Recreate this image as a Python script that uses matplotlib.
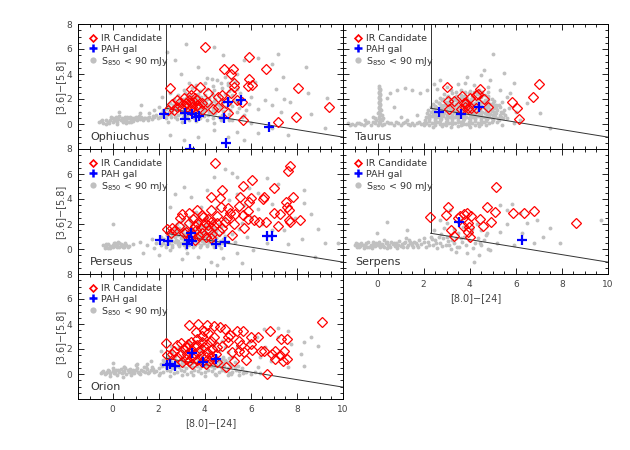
import numpy as np
import matplotlib
matplotlib.use("Agg")
import matplotlib.pyplot as plt
from matplotlib.lines import Line2D
from matplotlib.ticker import MultipleLocator, FixedLocator

# ---------------------------------------------------------------- data
names = ["Ophiuchus", "Taurus", "Perseus", "Serpens", "Orion"]

# S850 < 90 mJy sources (grey)
oph_gray = np.array([
    (-0.6, 0.15), (-0.5, 0.25), (-0.4, 0.1), (-0.3, 0.3), (-0.2, 0.2), (-0.1, 0.35), (0.0, 0.15), (0.0, 0.45),
    (0.1, 0.3), (0.15, 0.55), (0.2, 0.2), (0.25, 0.4), (0.3, 0.65), (0.35, 0.3), (0.4, 0.5), (0.45, 0.15),
    (0.5, 0.4), (0.55, 0.6), (0.6, 0.3), (0.65, 0.45), (0.7, 0.2), (0.75, 0.55), (0.8, 0.35), (0.85, 0.5),
    (0.9, 0.25), (0.95, 0.45), (1.0, 0.6), (1.05, 0.35), (1.1, 0.5), (1.2, 0.4), (1.25, 0.6), (1.3, 0.3),
    (1.4, 0.5), (1.5, 0.45), (1.6, 0.6), (1.7, 0.4), (1.8, 0.55), (1.9, 0.7), (-0.3, 0.0), (0.2, 0.0),
    (0.6, 0.1), (0.3, 1.0), (1.2, 0.9), (1.22, 1.5), (2.16, 2.2), (2.0, 1.4), (1.8, 1.1), (1.6, 0.9),
    (-0.45, 0.3), (-0.15, 0.1), (0.05, 0.3), (0.22, 0.5), (0.42, 0.32), (0.62, 0.55), (0.82, 0.2),
    (1.0, 0.42), (1.15, 0.65), (1.35, 0.48), (1.55, 0.3), (1.75, 0.62), (1.95, 0.45), (-0.05, 0.55),
    (2.05, 0.55), (2.3, 0.45), (2.55, 0.6), (2.8, 0.4), (3.05, 0.55), (3.3, 0.35), (3.55, 0.5), (3.8, 0.45),
    (4.1, 0.3), (4.35, 0.5), (4.7, 0.35), (2.1, 0.85), (2.35, 0.75), (2.6, 0.9), (2.85, 0.7), (3.1, 0.8),
    (3.35, 0.95), (3.6, 0.7), (3.9, 0.85), (4.15, 0.75), (4.45, 0.9), (4.75, 0.7), (5.05, 0.8),
    (2.2, 1.1), (2.45, 1.0), (2.7, 1.2), (2.95, 1.05), (3.2, 1.15), (3.45, 1.0), (3.7, 1.2), (3.95, 1.1),
    (4.2, 1.0), (4.5, 1.2), (4.8, 1.05), (5.1, 1.15), (5.4, 1.0), (2.35, 1.4), (2.6, 1.3), (2.85, 1.5),
    (3.1, 1.35), (3.35, 1.45), (3.6, 1.3), (3.85, 1.5), (4.1, 1.4), (4.35, 1.3), (4.6, 1.5), (4.9, 1.35),
    (5.2, 1.45), (5.5, 1.3), (2.5, 1.7), (2.75, 1.6), (3.0, 1.8), (3.25, 1.65), (3.5, 1.75), (3.75, 1.6),
    (4.0, 1.8), (4.25, 1.7), (4.5, 1.6), (4.8, 1.75), (5.1, 1.65), (5.4, 1.8), (2.65, 2.0), (2.9, 1.9),
    (3.2, 2.1), (3.45, 1.95), (3.7, 2.05), (3.95, 1.9), (4.2, 2.1), (4.45, 2.0), (4.7, 1.9), (5.0, 2.05),
    (5.3, 1.95), (2.85, 2.3), (3.15, 2.45), (3.4, 2.25), (3.7, 2.4), (4.0, 2.3), (4.3, 2.5), (4.6, 2.25),
    (4.9, 2.4), (5.2, 2.3), (5.55, 2.5), (3.1, 2.7), (3.45, 2.85), (3.8, 2.65), (4.1, 2.8), (4.4, 2.7),
    (4.75, 2.9), (5.05, 2.65), (5.4, 2.8), (3.6, 3.1), (4.0, 3.3), (4.35, 3.05), (4.7, 3.25), (5.0, 3.1),
    (5.3, 3.4), (4.1, 3.7), (4.55, 3.55), (4.9, 3.8), (5.2, 3.6), (2.4, 0.2), (3.0, 0.15), (3.6, 0.25),
    (4.4, 0.1), (5.2, 0.3), (5.6, 0.6), (5.8, 1.1), (5.9, 1.6), (6.0, 2.2),
    (2.2, 0.65), (2.48, 0.82), (2.72, 0.58), (2.98, 0.92), (3.22, 0.62), (3.48, 0.82), (3.72, 0.95),
    (3.98, 0.62), (4.28, 0.88), (4.6, 0.6), (2.32, 1.22), (2.58, 1.15), (2.82, 1.32), (3.08, 1.2),
    (3.32, 1.28), (3.58, 1.12), (3.82, 1.32), (4.08, 1.2), (4.38, 1.12), (4.68, 1.32), (2.62, 1.52),
    (2.88, 1.68), (3.12, 1.55), (3.38, 1.6), (3.62, 1.85), (3.88, 1.68), (4.12, 1.55), (4.4, 1.85),
    (4.72, 1.55), (3.05, 2.0), (3.3, 2.32), (3.58, 2.18), (3.85, 2.2), (4.1, 1.98), (4.38, 2.3),
    (2.38, 5.8), (3.2, 6.4), (4.8, 5.5), (5.7, 5.1), (6.9, 4.8), (8.4, 4.6), (7.4, 3.8), (6.2, 3.4),
    (7.1, 2.8), (8.5, 2.5), (9.3, 2.1), (7.7, 1.8), (6.9, 1.5), (6.3, 1.2), (7.3, 1.0), (8.6, 0.8),
    (6.0, 0.1), (6.9, -0.3), (5.4, -0.6), (4.4, -0.5), (3.7, -1.0), (3.1, -1.3), (2.5, -0.85), (5.0, -1.0),
    (5.7, -1.3), (6.3, -0.75), (7.6, -0.9), (9.2, -0.3), (4.4, 6.2), (2.7, 5.1), (2.96, 4.0), (3.7, 4.6),
    (4.3, 3.6), (5.42, 4.0), (5.0, 3.3), (3.3, 3.3), (2.5, 2.5), (6.6, 1.9), (7.45, 2.0), (5.71, 0.75),
    (5.06, 0.3), (7.2, 5.6), (6.3, 5.3),
])

tau_gray = np.array([
    (-1.3, 0.05), (-1.1, 0.0), (-0.9, 0.1), (-0.7, 0.0), (-0.5, 0.1), (-0.3, -0.05), (-0.1, 0.05), (0.1, 0.1),
    (0.3, 0.0), (0.5, 0.1), (0.7, -0.05), (0.9, 0.05), (1.1, 0.1), (1.3, 0.0), (1.5, 0.05), (1.7, 0.1),
    (1.9, 0.0), (2.1, 0.05), (-1.0, -0.1), (-0.4, 0.15), (0.2, -0.1), (0.8, 0.15), (1.4, -0.1),
    (-1.2, -0.05), (-0.8, 0.05), (-0.6, -0.1), (-0.2, 0.15), (0.0, -0.05), (0.4, 0.15), (0.6, 0.05),
    (1.0, -0.1), (1.2, 0.15), (1.6, -0.05), (1.8, 0.15), (2.0, 0.1),
    (0.05, 0.2), (0.1, 0.4), (0.05, 0.6), (0.12, 0.8), (0.08, 1.0), (0.1, 1.2), (0.05, 1.4), (0.12, 1.6),
    (0.08, 1.8), (0.1, 2.0), (0.06, 2.2), (0.12, 2.4), (0.08, 2.6), (0.1, 2.8), (0.05, 3.05),
    (0.1, 0.3), (0.06, 0.5), (0.12, 0.7), (0.06, 0.9), (0.12, 1.1), (0.07, 1.3), (0.1, 1.5), (0.06, 1.7),
    (0.12, 1.9), (0.08, 2.1), (0.1, 2.3), (0.06, 2.5), (0.12, 2.7), (0.08, 2.9),
    (-0.05, 0.3), (0.2, 0.3), (0.25, 0.5), (-0.1, 0.5), (0.2, 0.7), (0.0, 0.9), (0.15, 1.1),
    (0.54, 2.45), (0.83, 2.7), (1.2, 2.85), (1.5, 2.7), (1.85, 2.45), (2.14, 2.7), (0.4, 2.05),
    (0.7, 1.4), (1.0, 0.6), (1.27, 0.3), (1.7, 0.7), (-0.18, 0.6), (-0.54, 0.3),
    (2.4, -0.2), (2.8, -0.15), (3.2, -0.25), (3.6, -0.1), (4.0, -0.2), (4.4, -0.15),
    (2.1, 0.1), (2.35, 0.05), (2.6, 0.15), (2.85, 0.0), (3.1, 0.1), (3.35, 0.05), (3.6, 0.15), (3.85, 0.0),
    (4.1, 0.1), (4.35, 0.05), (4.6, 0.15), (4.85, 0.05),
    (2.05, 0.35), (2.25, 0.4), (2.5, 0.3), (2.75, 0.4), (3.0, 0.3), (3.25, 0.4), (3.5, 0.3), (3.75, 0.4),
    (4.0, 0.3), (4.25, 0.4), (4.5, 0.3), (4.75, 0.4), (5.0, 0.35), (5.25, 0.3),
    (2.1, 0.6), (2.35, 0.65), (2.6, 0.55), (2.85, 0.65), (3.1, 0.6), (3.35, 0.55), (3.6, 0.65), (3.85, 0.6),
    (4.1, 0.55), (4.35, 0.65), (4.6, 0.6), (4.85, 0.55), (5.1, 0.65), (5.35, 0.6),
    (2.15, 0.85), (2.4, 0.9), (2.65, 0.8), (2.9, 0.9), (3.15, 0.85), (3.4, 0.8), (3.65, 0.9), (3.9, 0.85),
    (4.15, 0.8), (4.4, 0.9), (4.65, 0.85), (4.9, 0.8), (5.15, 0.9), (5.45, 0.85),
    (2.2, 1.1), (2.45, 1.15), (2.7, 1.05), (2.95, 1.15), (3.2, 1.1), (3.45, 1.05), (3.7, 1.15), (3.95, 1.1),
    (4.2, 1.05), (4.45, 1.15), (4.7, 1.1), (4.95, 1.05), (5.2, 1.15), (5.5, 1.1),
    (2.3, 1.35), (2.55, 1.4), (2.8, 1.3), (3.05, 1.4), (3.3, 1.35), (3.55, 1.3), (3.8, 1.4), (4.05, 1.35),
    (4.3, 1.3), (4.55, 1.4), (4.8, 1.35), (5.05, 1.3), (5.3, 1.4),
    (2.4, 1.6), (2.65, 1.65), (2.9, 1.55), (3.15, 1.65), (3.4, 1.6), (3.65, 1.55), (3.9, 1.65), (4.15, 1.6),
    (4.4, 1.55), (4.65, 1.65), (4.9, 1.6), (5.15, 1.55),
    (2.55, 1.85), (2.8, 1.9), (3.05, 1.8), (3.3, 1.9), (3.55, 1.85), (3.8, 1.8), (4.05, 1.9), (4.3, 1.85),
    (4.55, 1.8), (4.8, 1.9), (5.05, 1.85),
    (2.7, 2.1), (3.0, 2.15), (3.3, 2.05), (3.6, 2.15), (3.9, 2.1), (4.2, 2.05), (4.5, 2.15), (4.8, 2.1),
    (2.9, 2.4), (3.25, 2.45), (3.6, 2.35), (3.95, 2.45), (4.3, 2.4), (4.65, 2.35),
    (3.2, 2.7), (3.6, 2.75), (4.0, 2.65), (4.4, 2.75),
    (2.22, -0.05), (2.48, -0.1), (2.72, 0.02), (2.98, -0.08), (3.22, 0.0), (3.48, -0.12), (3.72, 0.02),
    (3.98, -0.05), (4.22, -0.1), (4.48, 0.0), (4.72, -0.08),
    (2.22, 0.22), (2.48, 0.2), (2.72, 0.25), (2.98, 0.18), (3.22, 0.24), (3.48, 0.2), (3.72, 0.26),
    (3.98, 0.18), (4.22, 0.22), (4.48, 0.2), (4.72, 0.26), (4.98, 0.2), (5.2, 0.15),
    (2.22, 0.48), (2.48, 0.5), (2.72, 0.46), (2.98, 0.5), (3.22, 0.48), (3.48, 0.5), (3.72, 0.46),
    (3.98, 0.5), (4.22, 0.48), (4.48, 0.5), (4.72, 0.46), (4.98, 0.5), (5.22, 0.48), (5.45, 0.45),
    (2.25, 0.74), (2.5, 0.72), (2.75, 0.76), (3.0, 0.72), (3.25, 0.74), (3.5, 0.72), (3.75, 0.76),
    (4.0, 0.72), (4.25, 0.74), (4.5, 0.72), (4.75, 0.76), (5.0, 0.72), (5.3, 0.74), (5.55, 0.7),
    (2.3, 0.98), (2.55, 1.0), (2.8, 0.96), (3.05, 1.0), (3.3, 0.98), (3.55, 1.0), (3.8, 0.96),
    (4.05, 1.0), (4.3, 0.98), (4.55, 1.0), (4.8, 0.96), (5.05, 1.0), (5.35, 0.98),
    (2.4, 1.22), (2.65, 1.25), (2.9, 1.2), (3.15, 1.25), (3.4, 1.22), (3.65, 1.25), (3.9, 1.2),
    (4.15, 1.25), (4.4, 1.22), (4.65, 1.25), (4.9, 1.2), (5.15, 1.25),
    (2.5, 1.48), (2.75, 1.5), (3.0, 1.46), (3.25, 1.5), (3.5, 1.48), (3.75, 1.5), (4.0, 1.46),
    (4.25, 1.5), (4.5, 1.48), (4.75, 1.5), (5.0, 1.46), (5.25, 1.5),
    (2.65, 1.72), (2.95, 1.75), (3.25, 1.7), (3.5, 1.75), (3.75, 1.72), (4.0, 1.75), (4.25, 1.7),
    (4.5, 1.75), (4.75, 1.72), (5.0, 1.7),
    (2.85, 1.98), (3.15, 2.0), (3.45, 1.96), (3.75, 2.0), (4.05, 1.98), (4.35, 2.0), (4.65, 1.96), (4.95, 2.0),
    (3.05, 2.25), (3.4, 2.28), (3.75, 2.24), (4.1, 2.28), (4.45, 2.25), (4.8, 2.28),
    (3.4, 2.55), (3.8, 2.55), (4.2, 2.55), (4.55, 2.6),
    (2.0, -0.05), (5.6, 0.5), (5.7, 1.3), (5.4, 1.8), (3.0, 2.95), (4.8, 2.6),
    (5.47, 4.05), (5.0, 5.6), (5.9, 3.3), (6.48, 1.7), (7.06, 0.85), (4.9, 3.5), (4.5, 3.9), (3.9, 3.8),
    (2.72, 3.5), (2.43, 3.2), (5.76, 2.45), (6.2, 0.3), (5.4, -0.1), (7.5, -0.3), (3.5, 3.2), (4.2, 3.1),
    (4.8, 3.0), (5.3, 2.7), (5.6, 2.2), (6.0, 1.0), (5.9, 0.1), (2.6, 2.8), (3.8, 3.3), (4.6, 4.3),
])

per_gray = np.array([
    (-0.4, 0.3), (-0.3, 0.2), (-0.2, 0.4), (-0.1, 0.25), (0.0, 0.35), (0.0, 0.15), (0.1, 0.45), (0.15, 0.25),
    (0.2, 0.3), (0.3, 0.2), (0.35, 0.4), (0.4, 0.25), (0.5, 0.35), (0.6, 0.3), (0.7, 0.25), (-0.2, 0.1),
    (0.25, 0.55), (0.5, 0.15), (0.0, 2.0), (-0.3, 0.4), (-0.1, 0.1), (0.05, 0.5), (0.2, 0.15), (0.3, 0.45),
    (0.45, 0.2), (0.55, 0.45), (0.65, 0.15), (-0.35, 0.1), (0.1, 0.3), (0.4, 0.35),
    (0.9, 0.4), (1.2, 0.6), (1.5, 0.3), (1.7, 0.8), (1.9, 0.5), (2.1, 1.0), (1.3, -0.3), (1.8, 0.1), (2.0, -0.5),
    (2.3, 0.2), (2.6, 0.15), (2.9, 0.25), (3.2, 0.1), (3.5, 0.2), (3.8, 0.15), (4.1, 0.25), (4.4, 0.2), (4.7, 0.1),
    (2.2, 0.5), (2.45, 0.45), (2.7, 0.55), (2.95, 0.5), (3.2, 0.45), (3.45, 0.55), (3.7, 0.5), (3.95, 0.45),
    (4.2, 0.55), (4.45, 0.5), (4.75, 0.45), (5.0, 0.55),
    (2.25, 0.8), (2.5, 0.85), (2.75, 0.75), (3.0, 0.85), (3.25, 0.8), (3.5, 0.75), (3.75, 0.85), (4.0, 0.8),
    (4.25, 0.75), (4.5, 0.85), (4.8, 0.8),
    (2.35, 1.1), (2.6, 1.05), (2.85, 1.15), (3.1, 1.1), (3.35, 1.05), (3.6, 1.15), (3.85, 1.1), (4.1, 1.05),
    (4.35, 1.15), (4.6, 1.1), (4.9, 1.05),
    (2.5, 1.4), (2.75, 1.35), (3.0, 1.45), (3.25, 1.4), (3.5, 1.35), (3.75, 1.45), (4.0, 1.4), (4.25, 1.35),
    (4.5, 1.45), (4.8, 1.4),
    (2.65, 1.7), (2.9, 1.65), (3.15, 1.75), (3.4, 1.7), (3.65, 1.65), (3.9, 1.75), (4.15, 1.7), (4.4, 1.65),
    (4.7, 1.75),
    (2.8, 2.0), (3.1, 1.95), (3.4, 2.05), (3.7, 2.0), (4.0, 1.95), (4.3, 2.05), (4.6, 2.0),
    (3.0, 2.3), (3.35, 2.35), (3.7, 2.25), (4.05, 2.35), (4.4, 2.3), (3.3, 2.6), (3.7, 2.65), (4.1, 2.55),
    (2.32, 0.35), (2.58, 0.32), (2.82, 0.38), (3.08, 0.3), (3.32, 0.36), (3.58, 0.32), (3.82, 0.36),
    (4.08, 0.32), (4.32, 0.38), (4.6, 0.3), (2.35, 0.65), (2.6, 0.68), (2.85, 0.62), (3.12, 0.66),
    (3.38, 0.62), (3.62, 0.68), (3.88, 0.62), (4.12, 0.66), (4.38, 0.62), (4.65, 0.68), (2.45, 0.95),
    (2.72, 0.98), (2.98, 0.92), (3.22, 0.96), (3.48, 0.92), (3.72, 0.98), (3.98, 0.92), (4.22, 0.96),
    (4.48, 0.92), (2.62, 1.25), (2.88, 1.28), (3.12, 1.22), (3.38, 1.26), (3.62, 1.22), (3.88, 1.28),
    (4.12, 1.22), (4.4, 1.28), (2.8, 1.55), (3.05, 1.58), (3.3, 1.52), (3.55, 1.56), (3.8, 1.52),
    (4.05, 1.58), (4.3, 1.52),
    (5.2, 1.2), (5.3, 0.6), (5.5, 1.6), (5.6, 2.1), (4.9, 2.4), (2.1, 0.3),
    (4.9, 6.4), (5.2, 6.1), (5.4, 5.8), (6.7, 5.7), (7.2, 5.2), (8.3, 4.7), (6.3, 4.5), (6.9, 3.6),
    (8.3, 3.7), (8.6, 2.8), (8.9, 1.6), (9.8, 0.5), (9.2, 0.5), (8.2, 0.8), (7.45, 1.5), (6.7, 0.5),
    (6.1, -0.05), (5.4, -0.3), (4.8, -0.7), (4.26, -1.0), (3.7, -0.6), (4.55, -1.25), (3.25, -0.3),
    (2.5, -0.05), (3.83, 3.4), (4.1, 4.7), (3.4, 4.2), (3.1, 5.0), (4.4, 5.8), (2.5, 3.4), (5.7, 3.5),
    (6.3, 3.2), (5.4, 4.4), (5.06, 3.9), (6.9, 1.55), (5.85, 1.0), (7.6, 0.4), (8.8, -0.6), (6.0, 2.6),
    (7.9, 2.5), (6.5, 2.0), (5.9, 4.9), (2.7, 4.4), (3.6, 3.0), (4.5, 3.3), (3.0, -0.8), (5.6, -1.1),
])

ser_gray = np.array([
    (-1.0, 0.3), (-0.9, 0.15), (-0.85, 0.4), (-0.75, 0.25), (-0.7, 0.5), (-0.6, 0.1), (-0.55, 0.35), (-0.45, 0.2),
    (-0.4, 0.55), (-0.3, 0.3), (-0.25, 0.1), (-0.15, 0.45), (-0.1, 0.25), (0.0, 0.35), (0.05, 0.6), (0.1, 0.15),
    (0.2, 0.4), (0.25, 0.25), (0.35, 0.5), (0.4, 0.1), (0.45, 0.35), (0.55, 0.2), (0.6, 0.6), (0.65, 0.4),
    (0.75, 0.25), (0.8, 0.5), (0.9, 0.3), (0.95, 0.65), (1.05, 0.4), (1.1, 0.15), (1.2, 0.55), (1.3, 0.3),
    (1.35, 0.7), (1.45, 0.45), (1.55, 0.2), (1.6, 0.6), (1.7, 0.35), (1.8, 0.75), (-0.2, 0.6), (0.3, 0.7),
    (0.85, 0.05), (1.25, 0.85), (-0.95, 0.45), (-0.8, 0.2), (-0.65, 0.3), (-0.5, 0.45), (-0.35, 0.15),
    (-0.2, 0.3), (-0.05, 0.5), (0.12, 0.3), (0.28, 0.15), (0.42, 0.55), (0.5, 0.3), (0.7, 0.45),
    (0.85, 0.3), (1.0, 0.25), (1.15, 0.45), (1.28, 0.15), (1.4, 0.6), (1.5, 0.3), (1.65, 0.5), (1.75, 0.2),
    (1.9, 0.4), (2.0, 0.9), (2.1, 0.2), (2.2, 0.6), (2.3, 1.0), (2.4, 0.35), (2.5, 0.75), (2.6, 0.1),
    (2.7, 0.5), (2.75, 1.2), (2.85, 0.85), (2.95, 0.3), (3.05, 0.65), (3.15, 1.05), (3.2, 0.0), (3.3, 0.45),
    (3.4, 0.85), (3.5, 1.3), (3.55, 0.2), (3.65, 0.6), (3.75, 1.0), (3.85, 0.35), (3.95, 0.75), (4.05, 1.25),
    (4.15, 0.1), (4.25, 0.5), (4.35, 0.9), (4.5, 0.3), (4.6, 0.7), (4.7, 1.1), (2.45, 1.5), (2.9, 1.7),
    (3.3, 1.6), (3.7, 1.8), (4.1, 1.6), (4.5, 1.5), (3.0, 2.1), (3.6, 2.3), (4.3, 2.0), (4.8, 0.0),
    (3.9, -0.3), (4.4, -0.5), (3.4, -0.2), (2.0, 0.55), (2.25, 0.3), (2.55, 0.45), (2.8, 0.25),
    (3.1, 0.35), (3.45, 0.15), (2.35, 0.8), (2.65, 0.95), (3.0, 1.0), (3.25, 0.7), (3.6, 0.9),
    (0.4, 2.2), (-0.04, 1.3), (1.27, 1.55), (2.72, 2.35), (3.15, 3.15), (5.33, 3.55), (5.83, 3.6), (6.2, 2.9),
    (6.9, 2.35), (7.5, 1.7), (7.9, 0.5), (6.8, 0.5), (5.9, 0.35), (5.2, 0.5), (4.9, -0.05), (4.17, -1.0),
    (5.33, 1.4), (5.62, 2.0), (9.7, 2.35), (4.45, 0.5), (4.75, 1.25), (5.62, 3.15), (6.48, 2.1), (7.2, 1.0),
    (6.27, 1.3),
])

ori_gray = np.array([
    (-0.5, 0.1), (-0.4, 0.25), (-0.35, 0.0), (-0.25, 0.15), (-0.2, 0.35), (-0.1, 0.05), (0.0, 0.25), (0.0, 0.45),
    (0.1, 0.1), (0.15, 0.3), (0.2, -0.1), (0.3, 0.2), (0.35, 0.4), (0.4, 0.05), (0.5, 0.25), (0.55, 0.45),
    (0.6, 0.0), (0.7, 0.2), (0.75, 0.4), (0.8, -0.05), (0.9, 0.3), (0.95, 0.1), (1.05, 0.45), (1.1, 0.2),
    (1.2, 0.0), (1.25, 0.35), (1.35, 0.55), (1.4, 0.15), (1.5, 0.4), (1.55, 0.05), (1.65, 0.3), (1.7, 0.6),
    (1.8, 0.2), (0.0, 0.9), (0.5, 0.6), (1.0, 0.7), (1.5, 0.8), (-0.1, -0.15), (0.45, -0.2),
    (-0.45, 0.2), (-0.3, 0.1), (-0.15, 0.25), (0.05, 0.05), (0.25, 0.35), (0.45, 0.15), (0.65, 0.3),
    (0.85, 0.15), (1.0, 0.35), (1.15, 0.05), (1.3, 0.25), (1.45, 0.6), (1.6, 0.15), (1.75, 0.4),
    (2.0, -0.1), (2.5, -0.15), (3.0, -0.05), (3.5, -0.1), (4.0, -0.15), (4.5, -0.05), (5.0, -0.1), (5.5, -0.05),
    (6.0, 0.0), (1.9, 0.25), (2.2, 0.15), (2.5, 0.25), (2.8, 0.15), (3.1, 0.25), (3.4, 0.15), (3.7, 0.25),
    (4.0, 0.15), (4.3, 0.25), (4.6, 0.15), (4.9, 0.25), (5.2, 0.15), (5.5, 0.25), (5.8, 0.2), (6.2, 0.15),
    (2.0, 0.5), (2.3, 0.55), (2.6, 0.45), (2.9, 0.55), (3.2, 0.45), (3.5, 0.55), (3.8, 0.45), (4.1, 0.55),
    (4.4, 0.45), (4.7, 0.55), (5.0, 0.45), (5.3, 0.55), (5.6, 0.5),
    (2.1, 0.8), (2.4, 0.85), (2.7, 0.75), (3.0, 0.85), (3.3, 0.75), (3.6, 0.85), (3.9, 0.75), (4.2, 0.85),
    (4.5, 0.75), (4.8, 0.85), (5.1, 0.8),
    (2.2, 1.1), (2.5, 1.15), (2.8, 1.05), (3.1, 1.15), (3.4, 1.05), (3.7, 1.15), (4.0, 1.05), (4.3, 1.15),
    (4.6, 1.05), (4.9, 1.15), (2.4, 1.4), (2.7, 1.45), (3.0, 1.35), (3.3, 1.45), (3.6, 1.35), (3.9, 1.45),
    (4.2, 1.35), (4.5, 1.45), (4.8, 1.4), (5.2, 1.4), (2.6, 1.8), (3.0, 1.85), (3.4, 1.75), (3.8, 1.85),
    (4.2, 1.75), (4.6, 1.85), (5.0, 1.8), (2.9, 2.2), (3.4, 2.25), (3.9, 2.15), (4.4, 2.25), (4.9, 2.2),
    (3.3, 2.6), (3.9, 2.7), (4.5, 2.6),
    (2.05, 0.05), (2.35, 0.35), (2.65, 0.05), (2.95, 0.35), (3.25, 0.02), (3.55, 0.35), (3.85, 0.05),
    (4.15, 0.35), (4.45, 0.02), (4.75, 0.35), (5.05, 0.05), (5.35, 0.35), (5.65, 0.05), (6.4, 0.05),
    (2.15, 0.65), (2.45, 0.68), (2.75, 0.62), (3.05, 0.68), (3.35, 0.62), (3.65, 0.68), (3.95, 0.62),
    (4.25, 0.68), (4.55, 0.62), (4.85, 0.68), (5.15, 0.62), (5.45, 0.68), (2.25, 0.95), (2.55, 0.98),
    (2.85, 0.92), (3.15, 0.98), (3.45, 0.92), (3.75, 0.98), (4.05, 0.92), (4.35, 0.98), (4.65, 0.92),
    (4.95, 0.98), (5.3, 0.95), (2.35, 1.25), (2.65, 1.28), (2.95, 1.22), (4.75, 1.22), (5.05, 1.28),
    (6.25, 2.93), (7.16, 3.68), (7.6, 3.47), (8.3, 2.53), (8.9, 2.27), (7.74, 2.4), (8.17, 1.6), (6.87, 1.07),
    (6.29, 0.53), (5.71, 0.13), (5.13, 0.0), (7.6, 0.53), (8.3, 0.67), (7.16, 2.93), (6.58, 3.6), (2.52, 2.27),
    (2.1, 1.87), (1.65, 1.07), (1.07, 0.8), (0.5, 0.53), (5.42, 2.13), (4.77, 2.67), (6.6, 2.2), (7.0, 1.5),
    (5.9, 2.6), (6.4, 1.4), (8.6, 3.0),
])

# IR candidates (red diamonds)
oph_ir = np.array([
    (4.0, 6.2), (5.9, 5.4), (6.67, 4.4), (5.23, 4.4), (4.84, 4.4), (5.13, 4.0), (5.29, 3.3), (5.93, 3.6),
    (5.86, 3.05), (6.06, 3.1), (5.25, 3.0), (2.49, 2.9), (3.4, 2.8), (3.8, 3.0), (8.03, 2.9), (4.13, 2.5),
    (4.57, 2.2), (4.77, 2.3), (5.16, 2.5), (5.42, 1.9), (5.6, 1.8), (4.93, 1.7), (4.57, 1.4), (4.35, 1.2),
    (3.9, 1.7), (4.1, 1.8), (5.0, 0.85), (5.67, 0.3), (7.2, 0.2), (7.98, 0.6), (9.38, 1.4),
    (2.4, 1.1), (2.6, 1.6), (2.78, 1.4), (2.93, 1.8), (3.1, 2.1), (3.17, 1.65), (3.24, 1.4), (3.32, 1.9),
    (3.4, 1.65), (3.42, 2.3), (3.46, 1.4), (3.53, 1.8), (3.56, 2.1), (3.65, 1.5), (3.68, 1.9), (3.75, 1.25),
    (3.34, 1.1), (3.0, 1.25), (2.8, 1.9), (2.65, 1.1), (3.9, 1.1),
])
tau_ir = np.array([
    (3.0, 3.0), (3.04, 1.85), (3.3, 1.87), (3.08, 1.2), (3.66, 2.24), (3.85, 1.7), (4.02, 2.1), (4.28, 2.3),
    (4.34, 2.4), (4.43, 2.8), (4.63, 2.0), (4.79, 1.4), (3.61, 1.2), (3.8, 1.4), (3.92, 1.25), (4.07, 1.3),
    (4.28, 1.25), (3.76, 1.65), (5.82, 1.76), (6.05, 1.25), (6.12, 0.43), (6.75, 2.2), (6.99, 3.2),
])
per_ir = np.array([
    (4.43, 6.9), (7.68, 6.67), (7.6, 6.27), (6.07, 5.55), (5.67, 5.07), (7.01, 4.9), (4.77, 4.75), (4.26, 4.16),
    (4.67, 4.08), (5.54, 4.16), (6.0, 4.05), (5.93, 3.8), (6.58, 4.2), (6.53, 4.0), (7.84, 4.2), (7.52, 3.8),
    (7.57, 3.4), (7.67, 3.1), (7.01, 2.88), (7.27, 2.83), (7.67, 2.3), (7.72, 2.2), (8.12, 2.29), (7.17, 1.87),
    (6.65, 2.2), (6.36, 2.2), (6.14, 2.3), (5.86, 2.4), (5.64, 2.7), (5.49, 3.47), (5.86, 3.04), (5.01, 3.3),
    (5.1, 2.88), (5.3, 2.83), (4.98, 2.5), (5.25, 2.0), (5.71, 1.68), (5.2, 1.15), (4.7, 3.4), (4.55, 2.65),
    (4.26, 3.15), (3.94, 2.56), (3.68, 3.15), (3.3, 2.9), (3.03, 2.8), (2.93, 2.5), (2.38, 1.6), (2.52, 1.3),
    (4.04, 0.96), (4.26, 0.88), (2.6, 1.68), (2.7, 1.55), (2.9, 1.85), (3.17, 1.4), (3.32, 2.08), (3.42, 1.28),
    (3.5, 2.4), (3.56, 1.81), (3.6, 1.5), (3.68, 2.08), (3.75, 1.01), (3.83, 1.68), (3.9, 1.28), (4.0, 2.08),
    (4.13, 2.4), (4.15, 1.95), (4.2, 1.5), (4.26, 2.2), (4.33, 1.23), (4.4, 1.81), (4.55, 2.08), (4.62, 1.41),
    (4.77, 1.68), (4.87, 2.13), (3.1, 1.28), (3.36, 0.8), (3.56, 0.7), (3.9, 2.75),
])
ser_ir = np.array([
    (5.12, 4.96), (3.05, 3.33), (2.95, 2.72), (2.28, 2.56), (4.76, 3.33), (5.11, 2.99), (5.89, 2.88), (6.34, 2.88),
    (6.77, 3.04), (8.63, 2.1), (3.59, 2.67), (3.74, 2.83), (3.89, 2.88), (4.05, 2.67), (4.43, 2.43), (3.92, 2.08),
    (3.7, 1.87), (3.98, 1.76), (4.57, 1.81), (4.94, 2.16), (3.2, 1.55), (3.3, 1.07), (3.92, 1.33), (4.02, 0.96),
    (3.47, 2.45),
])
ori_ir = np.array([
    (9.07, 4.13), (3.32, 3.92), (3.72, 4.0), (4.1, 3.95), (4.39, 3.87), (4.67, 3.73), (4.87, 3.6), (5.42, 3.47),
    (5.64, 3.47), (5.1, 3.15), (6.0, 2.99), (6.33, 2.93), (6.84, 3.47), (7.3, 2.8), (7.57, 2.8), (7.45, 1.81),
    (7.04, 1.81), (7.28, 1.55), (6.9, 1.6), (6.58, 1.87), (6.43, 1.81), (6.0, 2.4), (6.07, 1.92), (5.71, 1.79),
    (5.49, 1.87), (5.2, 1.73), (5.28, 1.07), (5.78, 1.15), (7.58, 1.17), (6.7, 0.0), (4.91, 0.59), (7.38, 1.07),
    (7.06, 1.2), (2.38, 1.52), (2.56, 1.6), (2.32, 2.48), (2.78, 2.35), (2.96, 2.48), (3.29, 2.4),
    (5.49, 2.67), (5.56, 2.35), (4.99, 2.93), (4.99, 2.53), (4.77, 2.27), (4.55, 2.13), (4.26, 2.67), (3.97, 3.47),
    (3.9, 3.07), (4.14, 3.25), (4.39, 2.93), (3.61, 3.33), (3.68, 2.8),
    (2.67, 1.87), (2.81, 1.33), (2.96, 1.6), (3.1, 2.0), (3.17, 1.2), (3.25, 1.6), (3.32, 1.01), (3.39, 1.87),
    (3.46, 1.33), (3.54, 2.27), (3.57, 1.6), (3.65, 1.12), (3.75, 1.87), (3.83, 1.47), (3.9, 0.93), (3.97, 2.13),
    (4.04, 1.33), (4.1, 1.73), (4.19, 1.01), (4.26, 1.47), (4.33, 2.0), (4.4, 1.2), (4.48, 1.6), (4.55, 0.93),
    (3.39, 2.53), (3.68, 2.35), (3.9, 2.53), (4.1, 2.4), (3.25, 2.13), (3.03, 0.93), (3.46, 0.8), (4.04, 0.8),
])

# PAH galaxies (blue crosses)
oph_pah = np.array([(2.23, 0.8), (3.13, 0.9), (3.13, 0.4), (3.46, 0.8), (3.61, 0.6), (3.75, 0.65),
                    (4.84, 0.5), (5.0, 1.8), (5.56, 1.9), (6.8, -0.2), (4.91, -1.5), (3.35, -2.0)])
tau_pah = np.array([(2.67, 1.0), (3.63, 0.8), (4.39, 1.4)])
per_pah = np.array([(2.06, 0.75), (2.42, 0.67), (3.25, 0.43), (3.32, 0.75), (3.42, 1.28), (3.46, 0.67),
                    (4.5, 0.43), (4.87, 0.56), (6.72, 1.07), (6.91, 1.01)])
ser_pah = np.array([(3.54, 2.16), (6.25, 0.75)])
ori_pah = np.array([(2.38, 0.75), (2.49, 0.8), (2.7, 0.67), (3.46, 1.65), (3.94, 0.99), (4.51, 1.2)])

# selection boundary
cut_x = 2.3
cut_slope = -0.3
cut_icpt = 1.95

# ---------------------------------------------------------------- plot
fig = plt.figure(figsize=(6.3, 4.5), dpi=100)
W, H = 265 / 630, 125 / 450
cols = [78 / 630, 343 / 630]
rows = [1 - 149 / 450, 1 - 274 / 450, 1 - 399 / 450]
slots = [(0, 0), (1, 0), (0, 1), (1, 1), (0, 2)]

panels = [(oph_gray, oph_ir, oph_pah), (tau_gray, tau_ir, tau_pah),
          (per_gray, per_ir, per_pah), (ser_gray, ser_ir, ser_pah),
          (ori_gray, ori_ir, ori_pah)]

gray_col = "#c0c0c0"
tick_col = "#444444"
leg_handles = [
    Line2D([], [], ls="", marker="D", mfc="none", mec="red", ms=3.5, mew=1.2),
    Line2D([], [], ls="", marker="+", color="blue", ms=6, mew=1.8),
    Line2D([], [], ls="", marker="o", color=gray_col, ms=4.5, mew=0),
]
leg_labels = ["IR Candidate", "PAH gal", r"S$_{850}$ < 90 mJy"]

for name, (c, r), (gray, ir, pah) in zip(names, slots, panels):
    ax = fig.add_axes([cols[c], rows[r], W, H])
    ax.plot(gray[:, 0], gray[:, 1], "o", color=gray_col, ms=2.8, mew=0, zorder=1)
    ax.plot(ir[:, 0], ir[:, 1], "D", mfc="none", mec="red", ms=4.6, mew=0.9, zorder=3)
    ax.plot(pah[:, 0], pah[:, 1], "+", color="blue", ms=7, mew=1.6, zorder=4, clip_on=False)

    xl = np.array([cut_x, 10])
    ax.plot(xl, cut_icpt + cut_slope * xl, color="#333333", lw=0.7, zorder=2)
    ax.plot([cut_x, cut_x], [cut_icpt + cut_slope * cut_x, 8], color="#333333", lw=0.7, zorder=2)

    ax.set_xlim(-1.5, 10)
    ax.set_ylim(-2, 8)
    ax.xaxis.set_major_locator(MultipleLocator(2))
    ax.xaxis.set_minor_locator(MultipleLocator(0.5))
    ax.yaxis.set_major_locator(FixedLocator([0, 2, 4, 6, 8]))
    ax.yaxis.set_minor_locator(MultipleLocator(0.5))
    ax.tick_params(which="both", direction="in", top=True, right=True,
                   width=0.6, labelsize=6.5, labelcolor=tick_col, pad=4)
    ax.tick_params(which="major", length=4)
    ax.tick_params(which="minor", length=2)
    for s in ax.spines.values():
        s.set_linewidth(0.7)

    bottom_of_col = (c == 0 and r == 2) or (c == 1 and r == 1)
    if not bottom_of_col:
        ax.tick_params(labelbottom=False)
    else:
        ax.set_xlabel("[8.0]\u2212[24]", fontsize=7, color=tick_col, labelpad=3)
    if c == 1:
        ax.tick_params(labelleft=False)
    else:
        ax.set_ylabel("[3.6]\u2212[5.8]", fontsize=7, color=tick_col, labelpad=1)

    ax.text(0.045, 0.07, name, transform=ax.transAxes, fontsize=8, color="#333333")

    ax.legend(leg_handles, leg_labels, loc="upper left", frameon=False,
              fontsize=6.8, handlelength=1.0, handletextpad=0.3,
              labelspacing=0.12, borderaxespad=0.6, borderpad=0.5,
              labelcolor="#333333")

fig.savefig("out.png", dpi=100)
